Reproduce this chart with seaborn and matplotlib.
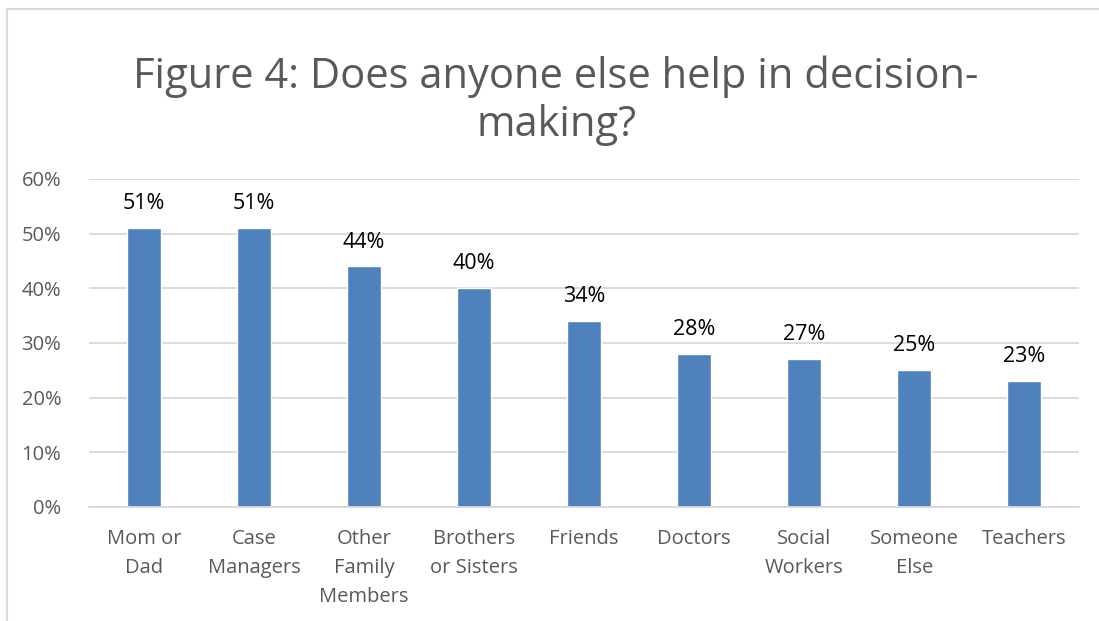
import matplotlib
matplotlib.use("Agg")
import matplotlib.pyplot as plt
import seaborn as sns
import pandas as pd
from matplotlib.lines import Line2D

categories = ["Mom or\nDad", "Case\nManagers", "Other\nFamily\nMembers", "Brothers\nor Sisters",
              "Friends", "Doctors", "Social\nWorkers", "Someone\nElse", "Teachers"]
values = [0.51, 0.51, 0.44, 0.40, 0.34, 0.28, 0.27, 0.25, 0.23]
labels = ["51%", "51%", "44%", "40%", "34%", "28%", "27%", "25%", "23%"]
yticks = [0.0, 0.1, 0.2, 0.3, 0.4, 0.5, 0.6]
ytick_labels = ["0%", "10%", "20%", "30%", "40%", "50%", "60%"]
title = "Figure 4: Does anyone else help in decision-\nmaking?"

sns.set_theme(style="white")
plt.rcParams['font.family'] = ['Open Sans', 'DejaVu Sans']

df = pd.DataFrame({"cat": categories, "val": values})

fig = plt.figure(figsize=(10.99, 6.21), dpi=100)
ax = fig.add_axes([0.081, 0.1836, 0.901, 0.5282])

sns.barplot(data=df, x="cat", y="val", color="#4F81BD", saturation=1, width=0.31, ax=ax)

ax.set_ylim(0, 0.6)
ax.set_xlim(-0.5, len(categories) - 0.5)
ax.set_yticks(yticks)
ax.set_yticklabels(ytick_labels)
ax.yaxis.grid(True, color="#D9D9D9", linewidth=1.3)
ax.set_axisbelow(True)
for s in ["top", "right", "left"]:
    ax.spines[s].set_visible(False)
ax.spines["bottom"].set_color("#D9D9D9")
ax.spines["bottom"].set_linewidth(1.3)
ax.set_xlabel("")
ax.set_ylabel("")
ax.tick_params(axis="both", length=0, labelsize=14.5, labelcolor="#595959")
ax.tick_params(axis="x", pad=16)
ax.tick_params(axis="y", pad=20)
for t in ax.get_xticklabels():
    t.set_linespacing(1.6)
    t.set_verticalalignment("top")

for i, (v, lab) in enumerate(zip(values, labels)):
    ax.annotate(lab, (i, v), xytext=(0, 10), textcoords="offset points",
                ha="center", va="bottom", fontsize=15.5, color="#000000")

fig.text(0.506, 0.838, title, ha="center", va="center", fontsize=30,
         color="#595959", linespacing=1.17)

# chart border (top and left visible)
fig.add_artist(Line2D([0.0064, 1.0], [0.985, 0.985], transform=fig.transFigure,
                      color="#D9D9D9", linewidth=1.5))
fig.add_artist(Line2D([0.0064, 0.0064], [0.0, 0.985], transform=fig.transFigure,
                      color="#D9D9D9", linewidth=1.5))

fig.savefig("out.png", dpi=100)
